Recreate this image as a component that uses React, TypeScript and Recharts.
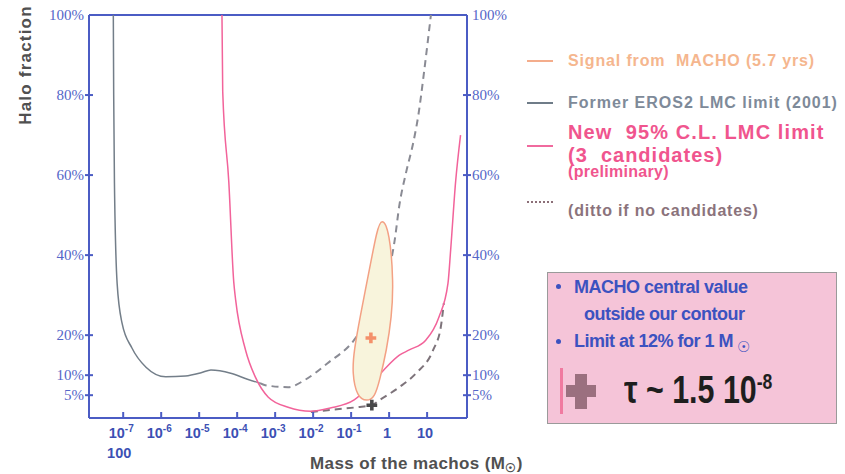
import React from 'react';
import {
  ComposedChart,
  Line,
  Scatter,
  XAxis,
  YAxis,
  ReferenceLine,
} from 'recharts';

// x = log10(mass / Msun), y = halo fraction in %
const erosX = [-7.26, -7.25, -7.23, -7.16, -7.03, -6.77, -6.4, -5.88, -5.36, -4.95, -4.69, -4.17, -3.73, -3.4];
const erosY = [100, 80, 58, 33, 23, 16.8, 12, 9.6, 9.8, 10.6, 11.3, 10.5, 9.0, 8.0];

const erosDashX = [-3.4, -3.26, -2.66, -2.22, -1.62, -0.92, -0.58, -0.25, 0.06, 0.14, 0.27, 0.45, 0.64, 0.77, 0.92, 1.1];
const erosDashY = [8.0, 7.5, 7.0, 8.8, 13, 18.8, 23.8, 29, 39, 43.3, 52.5, 60.8, 68.3, 75, 85.8, 100];

const newX = [-4.4, -4.38, -4.22, -4.09, -4.04, -3.78, -3.52, -3.18, -2.66, -2.06, -1.55, -0.92, -0.45, -0.14, 0.27, 0.53, 0.97, 1.31, 1.55, 1.62, 1.75, 1.88];
const newY = [100, 80.8, 58.3, 33.3, 28.8, 16.3, 9.5, 4.5, 2.0, 1.0, 1.8, 3.8, 8.0, 11.3, 15, 16.3, 18.8, 24.5, 33, 41.3, 58.3, 70];

const dittoX = [-2.06, -1.55, -0.84, -0.45, -0.25, 0.27, 0.71, 1.16, 1.36, 1.44];
const dittoY = [0.8, 1.3, 2.0, 2.5, 3.8, 7.0, 10.5, 16.3, 22, 28];

const contourX = [-0.195, 0.013, 0.117, 0.065, -0.065, -0.247, -0.377, -0.584, -0.844, -0.974, -0.922, -0.766, -0.506, -0.325];
const contourY = [49.5, 46, 33, 24.5, 16.3, 8.8, 4.5, 3.4, 4.5, 10.5, 16.3, 24.5, 37, 46];

const machoCentral = [{ x: -0.48, y: 19.3 }];
const erosCentral = [{ x: -0.455, y: 2.5 }];

const xTicks = [-7, -6, -5, -4, -3, -2, -1, 0, 1];
const xTickLabels = ['10^-7', '10^-6', '10^-5', '10^-4', '10^-3', '10^-2', '10^-1', '1', '10'];
const yTicks = [5, 10, 20, 40, 60, 80, 100];

const zip = (xs: number[], ys: number[]) => xs.map((x, i) => ({ x, y: ys[i] }));

const AXIS_BLUE = '#4b5cc4';
const SANS = 'Liberation Sans, Arial, sans-serif';

const XTick = (props: any) => {
  const { x, y, payload } = props;
  const label = xTickLabels[xTicks.indexOf(payload.value)] || '';
  const [base, exp] = label.split('^');
  return (
    <g>
      <line x1={x} x2={x} y1={y} y2={y - 6} stroke={AXIS_BLUE} strokeWidth={2} />
      <text x={x - 2} y={y + 20} textAnchor="middle" fill="#3c50b4" fontSize={14.5} fontWeight="bold" fontFamily={SANS}>
        {base}
        {exp && (
          <tspan dy={-6} fontSize={10}>
            {exp}
          </tspan>
        )}
      </text>
      {payload.value === -7 && (
        <text x={x - 4} y={y + 40} textAnchor="middle" fill="#3c50b4" fontSize={14.5} fontWeight="bold" fontFamily={SANS}>
          100
        </text>
      )}
    </g>
  );
};

const YTick = (props: any) => {
  const { x, y, payload, side } = props;
  const left = side === 'left';
  return (
    <g>
      {payload.value !== 100 && <line x1={x - 4} x2={x + 4} y1={y} y2={y} stroke={AXIS_BLUE} strokeWidth={2} />}
      <text
        x={left ? x - 5 : x + 5}
        y={y + 5}
        textAnchor={left ? 'end' : 'start'}
        fill="#5566c8"
        fontSize={15}
        fontFamily="Liberation Serif, Times New Roman, serif"
      >
        {payload.value}%
      </text>
    </g>
  );
};

const legendText = (color: string, size: number, spacing = 0): React.CSSProperties => ({
  position: 'absolute',
  color,
  fontSize: size,
  fontWeight: 'bold',
  fontFamily: SANS,
  whiteSpace: 'nowrap',
  lineHeight: 1,
  letterSpacing: spacing,
});

const boxText: React.CSSProperties = {
  position: 'absolute',
  color: '#3c52c0',
  fontSize: 18,
  fontWeight: 'bold',
  whiteSpace: 'nowrap',
  letterSpacing: -0.5,
  lineHeight: 1,
};

export default function App() {
  return (
    <div style={{ position: 'absolute', left: 0, top: 0, width: 845, height: 474, background: '#fff', overflow: 'hidden' }}>
      <ComposedChart width={845} height={474} margin={{ top: 15, right: 328, bottom: 16, left: 39 }}>
        <XAxis
          dataKey="x"
          type="number"
          domain={[-7.9, 2.05]}
          allowDataOverflow
          ticks={xTicks}
          interval={0}
          height={40}
          tickSize={0}
          tickMargin={0}
          tickLine={false}
          axisLine={{ stroke: AXIS_BLUE, strokeWidth: 2 }}
          tick={<XTick />}
        />
        <YAxis
          yAxisId="left"
          type="number"
          domain={[-0.7, 100]}
          allowDataOverflow
          ticks={yTicks}
          interval={0}
          width={50}
          tickSize={0}
          tickMargin={0}
          tickLine={false}
          axisLine={{ stroke: AXIS_BLUE, strokeWidth: 2 }}
          tick={<YTick side="left" />}
        />
        <YAxis
          yAxisId="right"
          orientation="right"
          type="number"
          domain={[-0.7, 100]}
          allowDataOverflow
          ticks={yTicks}
          interval={0}
          width={50}
          tickSize={0}
          tickMargin={0}
          tickLine={false}
          axisLine={{ stroke: AXIS_BLUE, strokeWidth: 2 }}
          tick={<YTick side="right" />}
        />
        <ReferenceLine yAxisId="left" y={100} stroke={AXIS_BLUE} strokeWidth={2} />

        <Scatter
          yAxisId="left"
          data={zip(contourX, contourY)}
          dataKey="y"
          line={{ stroke: '#f3a184', strokeWidth: 1.5, fill: '#f8f4dc' }}
          lineType="joint"
          lineJointType="basisClosed"
          shape={() => <g />}
          isAnimationActive={false}
        />
        <Line
          yAxisId="left"
          data={zip(erosX, erosY)}
          dataKey="y"
          type="monotone"
          stroke="#737e89"
          strokeWidth={1.5}
          dot={false}
          isAnimationActive={false}
        />
        <Line
          yAxisId="left"
          data={zip(erosDashX, erosDashY)}
          dataKey="y"
          type="monotone"
          stroke="#8a8b94"
          strokeWidth={2}
          strokeDasharray="7 5"
          dot={false}
          isAnimationActive={false}
        />
        <Line
          yAxisId="left"
          data={zip(dittoX, dittoY)}
          dataKey="y"
          type="monotone"
          stroke="#7d737a"
          strokeWidth={2}
          strokeDasharray="7 5"
          dot={false}
          isAnimationActive={false}
        />
        <Line
          yAxisId="left"
          data={zip(newX, newY)}
          dataKey="y"
          type="monotone"
          stroke="#f2639a"
          strokeWidth={1.5}
          dot={false}
          isAnimationActive={false}
        />
        <Scatter yAxisId="left" data={machoCentral} dataKey="y" shape="cross" size={155} fill="#f4906a" isAnimationActive={false} />
        <Scatter yAxisId="left" data={erosCentral} dataKey="y" shape="cross" size={185} fill="#48484a" isAnimationActive={false} />
      </ComposedChart>

      {/* axis titles */}
      <div
        style={{
          ...legendText('#505050', 17, 1.2),
          left: 25,
          top: 65,
          transform: 'translate(-50%, -50%) rotate(-90deg)',
        }}
      >
        Halo fraction
      </div>
      <div style={{ ...legendText('#505050', 17, 0.4), left: 310, top: 455 }}>
        Mass of the machos (M<span style={{ fontSize: 12, position: 'relative', top: 3 }}>☉</span>)
      </div>

      {/* legend */}
      <div style={{ position: 'absolute', left: 527, top: 60, width: 26, borderTop: '2px solid #f4ad8c' }} />
      <div style={{ ...legendText('#f5b68e', 16, 0.85), left: 568, top: 53 }}>Signal from&nbsp; MACHO (5.7 yrs)</div>

      <div style={{ position: 'absolute', left: 527, top: 102, width: 26, borderTop: '2px solid #6f7c88' }} />
      <div style={{ ...legendText('#7e8a99', 16, 1.0), left: 568, top: 95 }}>Former EROS2 LMC limit (2001)</div>

      <div style={{ position: 'absolute', left: 527, top: 145, width: 26, borderTop: '2px solid #f06a9e' }} />
      <div style={{ ...legendText('#f0558e', 20, 1.1), left: 568, top: 122 }}>New&nbsp; 95% C.L. LMC limit</div>
      <div style={{ ...legendText('#f0558e', 20, 1.0), left: 568, top: 145 }}>(3&nbsp; candidates)</div>
      <div style={{ ...legendText('#f0558e', 16, 0.3), left: 568, top: 164 }}>(preliminary)</div>

      <div style={{ position: 'absolute', left: 527, top: 201, width: 26, borderTop: '2px dotted #8c6f78' }} />
      <div style={{ ...legendText('#8b737c', 16, 0.8), left: 568, top: 203 }}>(ditto if no candidates)</div>

      {/* note box */}
      <div
        style={{
          position: 'absolute',
          left: 547,
          top: 272,
          width: 290,
          height: 152,
          background: '#f5c4d8',
          border: '1px solid #9a9a9a',
          boxSizing: 'border-box',
          fontFamily: SANS,
        }}
      >
        <div style={{ position: 'absolute', left: 8, top: 11, width: 5, height: 5, borderRadius: 3, background: '#3c52c0' }} />
        <div style={{ ...boxText, left: 26, top: 5 }}>MACHO central value</div>
        <div style={{ ...boxText, left: 36, top: 32 }}>outside our contour</div>
        <div style={{ position: 'absolute', left: 8, top: 66, width: 5, height: 5, borderRadius: 3, background: '#3c52c0' }} />
        <div style={{ ...boxText, left: 26, top: 59 }}>
          Limit at 12% for 1 M
          <span style={{ fontSize: 15, position: 'relative', top: 5, marginLeft: 4, fontFamily: 'DejaVu Sans', fontWeight: 'normal' }}>☉</span>
        </div>
        <div style={{ position: 'absolute', left: 12, top: 95, width: 3, height: 46, background: '#f07aa0' }} />
        <div style={{ position: 'absolute', left: 18, top: 112, width: 30, height: 12, background: '#9b707f' }} />
        <div style={{ position: 'absolute', left: 27, top: 101, width: 12, height: 35, background: '#9b707f' }} />
        <div
          style={{
            position: 'absolute',
            left: 76,
            top: 98,
            color: '#1e1e1e',
            fontSize: 38,
            fontWeight: 'bold',
            whiteSpace: 'nowrap',
            lineHeight: 1,
            transform: 'scaleX(0.8)',
            transformOrigin: 'left center',
          }}
        >
          τ ~ 1.5 10<span style={{ fontSize: 22, position: 'relative', top: -14 }}>-8</span>
        </div>
      </div>
    </div>
  );
}
